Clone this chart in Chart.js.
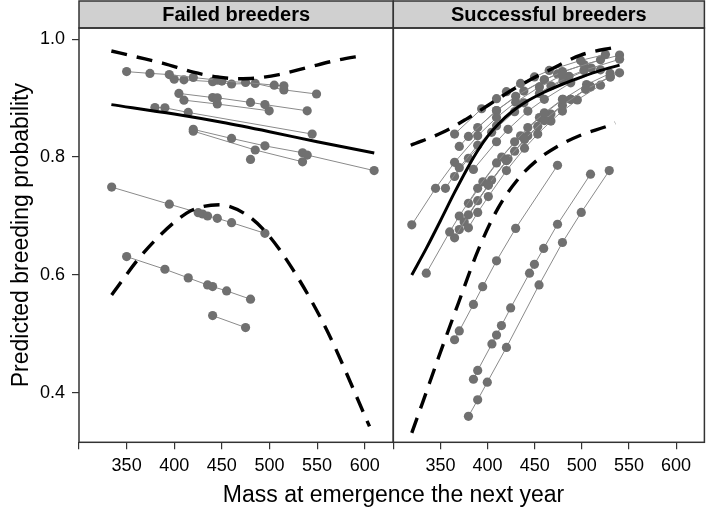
<!DOCTYPE html>
<html><head><meta charset="utf-8">
<script src="https://cdn.jsdelivr.net/npm/chart.js@4"></script>
<style>
html,body{margin:0;padding:0;background:#fff;}
#wrap{position:relative;width:709px;height:510px;}
#wrap canvas{position:absolute;left:0;top:0;}
</style></head><body>
<div id="wrap"><canvas id="c1" width="709" height="510"></canvas><canvas id="c2" width="709" height="510"></canvas></div>
<script>
const panelTitles = ['Failed breeders', 'Successful breeders'];
const xTitle = 'Mass at emergence the next year';
const yTitle = 'Predicted breeding probability';
const xTicks = [300, 350, 400, 450, 500, 550, 600];
const yTicks = [0.4, 0.6, 0.8, 1.0];

// ---- Failed breeders: individuals [mass, predicted probability]
const failedA = [[350,0.945],[374.5,0.942],[394.8,0.940],[420,0.935],[445.2,0.9305],[450,0.929],[474.9,0.9265],[505,0.922],[515.1,0.921]];
const failedB = [[400,0.932],[410.2,0.931],[440.3,0.928],[460.2,0.924],[485,0.925],[515.1,0.914],[549.4,0.907]];
const failedC = [[404.9,0.908],[440.3,0.901],[445.2,0.9006],[480.1,0.8927],[495.2,0.889],[539.6,0.8785]];
const failedD = [[410.2,0.8966],[445.2,0.890],[499.7,0.8785]];
const failedE = [[379.7,0.884],[390.2,0.8836],[414.7,0.8757],[544.8,0.839]];
const failedF = [[420,0.847],[460.2,0.8316],[495.2,0.819],[534.7,0.8073],[539.6,0.8034],[609.9,0.777]];
const failedG = [[420,0.844],[485,0.812],[534.7,0.792]];
const failedH = [[480.1,0.796]];
const failedI = [[334.3,0.749],[394.8,0.720],[425.2,0.7057],[429.8,0.7034],[435,0.700],[445.2,0.696],[460.2,0.6887],[495.2,0.6706]];
const failedJ = [[350,0.6311],[390.2,0.6096],[414.7,0.595],[435,0.583],[440.3,0.5802],[455,0.5729],[480.1,0.5588]];
const failedK = [[440.3,0.531],[474.9,0.5107]];
const failedFit = [[334,0.889],[400,0.873],[450,0.859],[500,0.843],[550,0.826],[610,0.807]];
const failedUpper = [[334,0.980],[360,0.970],[388.5,0.959],[420,0.944],[445,0.936],[465,0.933],[486,0.934],[510,0.940],[540,0.952],[570,0.964],[600,0.973]];
const failedLower = [[334.3,0.566],[367.5,0.637],[413,0.705],[430,0.716],[448,0.719],[475,0.703],[497,0.671],[525,0.608],[560,0.507],[605,0.343]];

// ---- Successful breeders: individuals
const succR1 = [[365,0.490],[370,0.505],[385,0.550],[394.8,0.580],[409.5,0.624],[429.8,0.679],[474.2,0.786]];
const succR2 = [[385,0.423],[389.5,0.438],[404.6,0.483],[409.5,0.498],[414.7,0.514],[424.5,0.544],[444.5,0.603],[449.7,0.618],[459.5,0.645],[474.2,0.686],[509.2,0.771]];
const succR3 = [[379.7,0.360],[389.5,0.388],[399.7,0.418],[420,0.477],[454.6,0.583],[479.4,0.655],[499.4,0.706],[529.1,0.777]];
const succU1 = [[319.6,0.685],[344.8,0.747],[365,0.791],[389.5,0.836],[409.5,0.867],[429.8,0.893],[455,0.919],[479.4,0.939]];
const succU2 = [[365,0.839],[393.7,0.882],[409.5,0.899],[420,0.911],[435,0.925],[449.7,0.936],[465.4,0.947],[498.7,0.964],[525,0.974]];
const succU3 = [[370,0.818],[379.7,0.835],[409.5,0.879],[429.8,0.903],[460.2,0.931],[479.4,0.945],[519.8,0.965]];
const succU4 = [[355.3,0.747],[370,0.782],[389.5,0.820],[409.5,0.853],[438.5,0.892],[467.2,0.921],[486.4,0.937],[502.2,0.947],[540,0.966]];
const succU5 = [[365,0.767],[379.7,0.798],[404.3,0.842],[428.7,0.877],[455,0.908],[480,0.930],[510,0.951]];
const succU6 = [[385,0.779],[409.5,0.826],[421.7,0.847],[442.7,0.878],[460.2,0.898],[488.2,0.926],[519.8,0.948]];
const succU7 = [[389.5,0.850],[409.5,0.879],[438.5,0.912],[460.2,0.931],[474.2,0.941],[502.2,0.957],[540,0.973]];
const succL1 = [[335,0.603],[359.8,0.673],[370,0.700],[389.5,0.747],[409.5,0.790],[428.7,0.826],[442.7,0.850],[460.2,0.875],[479.4,0.898]];
const succL2 = [[365,0.663],[379.7,0.702],[400.8,0.753],[420,0.794],[439.2,0.830],[460.2,0.863],[479.4,0.888],[504,0.915],[530.1,0.936]];
const succL3 = [[370,0.677],[404.3,0.761],[420,0.794],[442.7,0.836],[467.2,0.873],[488.2,0.898],[509.2,0.920],[540,0.943]];
const succL4 = [[379.7,0.680],[389.5,0.706],[400.8,0.733],[420,0.777],[439.2,0.815],[453.2,0.839],[467.2,0.861],[479.4,0.878],[495.2,0.897],[519.8,0.922]];
const succL5 = [[375.2,0.690],[389.5,0.726],[400.8,0.752],[421.7,0.797],[428.7,0.810],[453.2,0.852],[460.2,0.862],[488.2,0.898],[509.2,0.919],[530.1,0.936]];
const succL6 = [[379.7,0.7215],[395,0.758],[415,0.800],[435,0.836],[455,0.867],[480,0.898],[505,0.923],[530,0.942]];
const succFit = [[319.6,0.600],[335,0.645],[350,0.692],[365,0.740],[380,0.785],[390,0.812],[400,0.835],[412,0.857],[425,0.876],[440,0.893],[460,0.910],[480,0.924],[500,0.936],[520,0.947],[540,0.956]];
const succUpper = [[318.5,0.820],[352.5,0.842],[377,0.864],[400.7,0.888],[424.2,0.912],[446.2,0.932],[467.2,0.949],[498.7,0.973],[537.1,0.987]];
const succLower = [[319.6,0.332],[331,0.383],[348,0.460],[369,0.552],[390,0.642],[411,0.713],[432,0.762],[452,0.794],[474,0.818],[500,0.838],[528,0.853],[535.4,0.858]];

const failedIndividuals = [failedA,failedB,failedC,failedD,failedE,failedF,failedG,failedH,failedI,failedJ,failedK];
const succIndividuals = [succR1,succR2,succR3,succU1,succU2,succU3,succU4,succU5,succU6,succU7,succL1,succL2,succL3,succL4,succL5,succL6];

const FONT = '"Liberation Sans", Arial, Helvetica, sans-serif';
Chart.defaults.font.family = FONT;
Chart.defaults.color = '#000';

const toXY = arr => arr.map(p => ({x: p[0], y: p[1]}));
function indivDs(arr) {
  return {data: toXY(arr), showLine: true, borderColor: '#8a8a8a', borderWidth: 1,
    pointRadius: 4.6, pointBackgroundColor: '#707070', pointBorderWidth: 0, order: 2};
}
function fitDs(arr, dashed) {
  return {data: toXY(arr), showLine: true, borderColor: '#000', borderWidth: dashed ? 3.4 : 3,
    borderDash: dashed ? [16, 10] : [], pointRadius: 0, cubicInterpolationMode: 'monotone', order: 0};
}

const frame = {
  id: 'frame',
  afterDraw(chart, args, opts) {
    const {ctx, chartArea: a} = chart;
    ctx.save();
    ctx.fillStyle = '#d0d0d0';
    ctx.fillRect(a.left, 1, a.right - a.left, a.top - 1);
    ctx.strokeStyle = '#333'; ctx.lineWidth = 1.5;
    ctx.strokeRect(a.left, 1, a.right - a.left, a.top - 1);
    ctx.strokeRect(a.left, a.top, a.right - a.left, a.bottom - a.top);
    ctx.fillStyle = '#000';
    ctx.font = 'bold 20px ' + FONT;
    ctx.textAlign = 'center'; ctx.textBaseline = 'middle';
    ctx.fillText(opts.title, (a.left + a.right) / 2, (a.top + 1) / 2 + 1);
    if (opts.xTitle) {
      ctx.font = '23px ' + FONT;
      ctx.fillText(opts.xTitle, (a.left + 708) / 2, 496);
    }
    ctx.restore();
  }
};

function xScale() {
  return {type: 'linear', min: 300, max: 630,
    afterBuildTicks: s => { s.ticks = xTicks.map(v => ({value: v})); },
    afterFit: s => { s.height = 67.7; },
    grid: {drawOnChartArea: false, drawTicks: true, tickLength: 7, color: '#333', lineWidth: 1.2},
    border: {display: false},
    ticks: {font: {size: 18}, padding: 6, maxRotation: 0, autoSkip: false,
      callback: v => (v === 300 ? '' : String(v))}};
}

function makeChart(id, individuals, fit, upper, lower, left) {
  const datasets = [fitDs(fit, false), fitDs(upper, true), fitDs(lower, true)]
    .concat(individuals.map(indivDs));
  return new Chart(document.getElementById(id), {
    type: 'scatter',
    data: {datasets},
    options: {
      responsive: false, animation: false, events: [],
      layout: {padding: left ? {top: 28, right: 315.7, bottom: 0, left: 0} : {top: 28, right: 1, bottom: 0, left: 393.3}},
      plugins: {legend: {display: false}, tooltip: {enabled: false},
        frame: {title: left ? panelTitles[0] : panelTitles[1], xTitle: left ? xTitle : null}},
      scales: {
        x: xScale(),
        y: {type: 'linear', min: 0.316, max: 1.019, display: left,
          afterBuildTicks: s => { s.ticks = yTicks.map(v => ({value: v})); },
          afterFit: s => { s.width = left ? 79 : 0; },
          grid: {drawOnChartArea: false, drawTicks: true, tickLength: 7, color: '#333', lineWidth: 1.2},
          border: {display: false},
          title: {display: true, text: yTitle, font: {size: 23}, padding: {top: 8, bottom: 0}},
          ticks: {font: {size: 18}, padding: 7, callback: v => v.toFixed(1)}}
      }
    },
    plugins: [frame]
  });
}

makeChart('c1', failedIndividuals, failedFit, failedUpper, failedLower, true);
makeChart('c2', succIndividuals, succFit, succUpper, succLower, false);
</script>
</body></html>
